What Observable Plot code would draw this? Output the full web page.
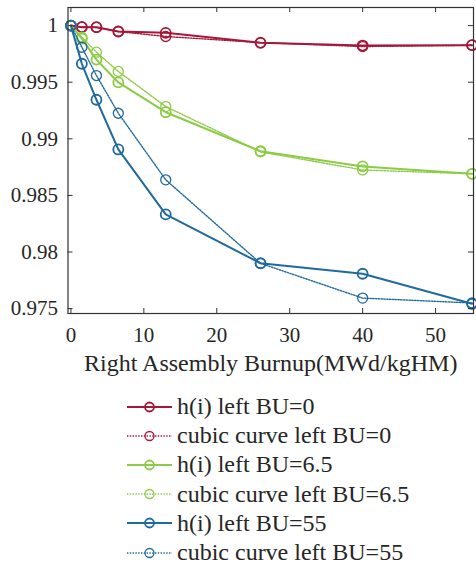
<!DOCTYPE html>
<html>
<head>
<meta charset="utf-8">
<script src="https://cdn.jsdelivr.net/npm/d3@7"></script>
<script src="https://cdn.jsdelivr.net/npm/@observablehq/plot@0.6"></script>
<style>
  body { margin: 0; background: #fff; font-family: 'Liberation Serif', 'DejaVu Serif', serif; }
  #legend { margin-left: 127px; }
  .row { display: flex; align-items: center; height: 29.2px; }
  .row span { font-family: 'Liberation Serif', 'DejaVu Serif', serif; font-size: 24px; color: #262626; margin-left: 4px; white-space: nowrap; }
</style>
</head>
<body>
<div id="chart"></div>
<div id="legend"></div>
<script>
const burnup = [0, 1.5, 3.5, 6.5, 13, 26, 40, 55];
const hBU0 = [1.0, 0.99986, 0.99986, 0.99948, 0.99936, 0.99848, 0.99824, 0.99827];
const cubicBU0 = [1.0, 0.99988, 0.99984, 0.99948, 0.99904, 0.99850, 0.99815, 0.99827];
const hBU65 = [1.0, 0.99885, 0.99700, 0.99498, 0.99235, 0.98891, 0.98756, 0.98691];
const cubicBU65 = [1.0, 0.99897, 0.99765, 0.99595, 0.99285, 0.98885, 0.98725, 0.98691];
const hBU55 = [1.0, 0.99663, 0.99345, 0.98906, 0.98332, 0.97901, 0.97808, 0.97543];
const cubicBU55 = [1.0, 0.99809, 0.99559, 0.99226, 0.98638, 0.97900, 0.97593, 0.97550];

const seriesNames = ["h(i) left BU=0", "cubic curve left BU=0", "h(i) left BU=6.5", "cubic curve left BU=6.5", "h(i) left BU=55", "cubic curve left BU=55"];
const seriesValues = [hBU0, cubicBU0, hBU65, cubicBU65, hBU55, cubicBU55];
const seriesColors = ["#A6173A", "#A6173A", "#8CCB45", "#8CCB45", "#1F6A9E", "#1F6A9E"];
const seriesDotted = [false, true, false, true, false, true];

const xTicks = [0, 10, 20, 30, 40, 50];
const yTicks = [0.975, 0.98, 0.985, 0.99, 0.995, 1];
const xLabel = "Right Assembly Burnup(MWd/kgHM)";

const W = 476, H = 392;
const mL = 67.5, mR = 3, mT = 7, mB = 79;
const innerW = W - mL - mR, innerH = H - mT - mB;
const tickLen = 5;
const axisColor = "#333333";
const serif = "'Liberation Serif', 'DejaVu Serif', serif";

const marks = [];
seriesNames.forEach((name, i) => {
  const data = burnup.map((b, j) => ({x: b, y: seriesValues[i][j]}));
  const dotted = seriesDotted[i];
  marks.push(Plot.line(data, {
    x: "x", y: "y", stroke: seriesColors[i],
    strokeWidth: dotted ? 1.4 : 2,
    strokeDasharray: dotted ? "1.4,1.4" : null
  }));
  marks.push(Plot.dot(data, {
    x: "x", y: "y", stroke: seriesColors[i], fill: "none", r: 5,
    strokeWidth: dotted ? 1.3 : 1.8
  }));
});

// inward ticks (MATLAB style) on all four sides
marks.push(Plot.tickX(xTicks, {x: d => d, stroke: axisColor, insetTop: innerH - tickLen}));
marks.push(Plot.tickX(xTicks, {x: d => d, stroke: axisColor, insetBottom: innerH - tickLen}));
marks.push(Plot.tickY(yTicks, {y: d => d, stroke: axisColor, insetRight: innerW - tickLen}));
marks.push(Plot.tickY(yTicks, {y: d => d, stroke: axisColor, insetLeft: innerW - tickLen}));
marks.push(Plot.frame({stroke: axisColor, strokeWidth: 1.2}));

marks.push(Plot.axisX(xTicks, {tickSize: 0, tickPadding: 14, fontSize: 21, fontFamily: serif, color: "#262626", label: null}));
marks.push(Plot.axisY(yTicks, {tickSize: 0, tickPadding: 10, fontSize: 21, fontFamily: serif, color: "#262626", label: null, tickFormat: d3.format("~g")}));
marks.push(Plot.text([xLabel], {text: d => d, frameAnchor: "bottom", dy: 50, fontSize: 24, fontFamily: serif, fill: "#262626", lineAnchor: "middle"}));

const chart = Plot.plot({
  width: W, height: H,
  marginLeft: mL, marginRight: mR, marginTop: mT, marginBottom: mB,
  style: {fontFamily: serif, background: "#fff"},
  x: {domain: [-0.4, 55.2]},
  y: {domain: [0.97457, 1.0016]},
  marks
});
document.getElementById("chart").appendChild(chart);

const legend = document.getElementById("legend");
seriesNames.forEach((name, i) => {
  const row = document.createElement("div");
  row.className = "row";
  const svg = d3.create("svg").attr("width", 46).attr("height", 20);
  svg.append("line").attr("x1", 0).attr("x2", 45).attr("y1", 10).attr("y2", 10)
    .attr("stroke", seriesColors[i]).attr("stroke-width", seriesDotted[i] ? 1.4 : 2)
    .attr("stroke-dasharray", seriesDotted[i] ? "1.4,1.4" : null);
  svg.append("circle").attr("cx", 22.5).attr("cy", 10).attr("r", 4.5)
    .attr("fill", "none").attr("stroke", seriesColors[i]).attr("stroke-width", seriesDotted[i] ? 1.3 : 1.8);
  row.appendChild(svg.node());
  const span = document.createElement("span");
  span.textContent = name;
  row.appendChild(span);
  legend.appendChild(row);
});
</script>
</body>
</html>
